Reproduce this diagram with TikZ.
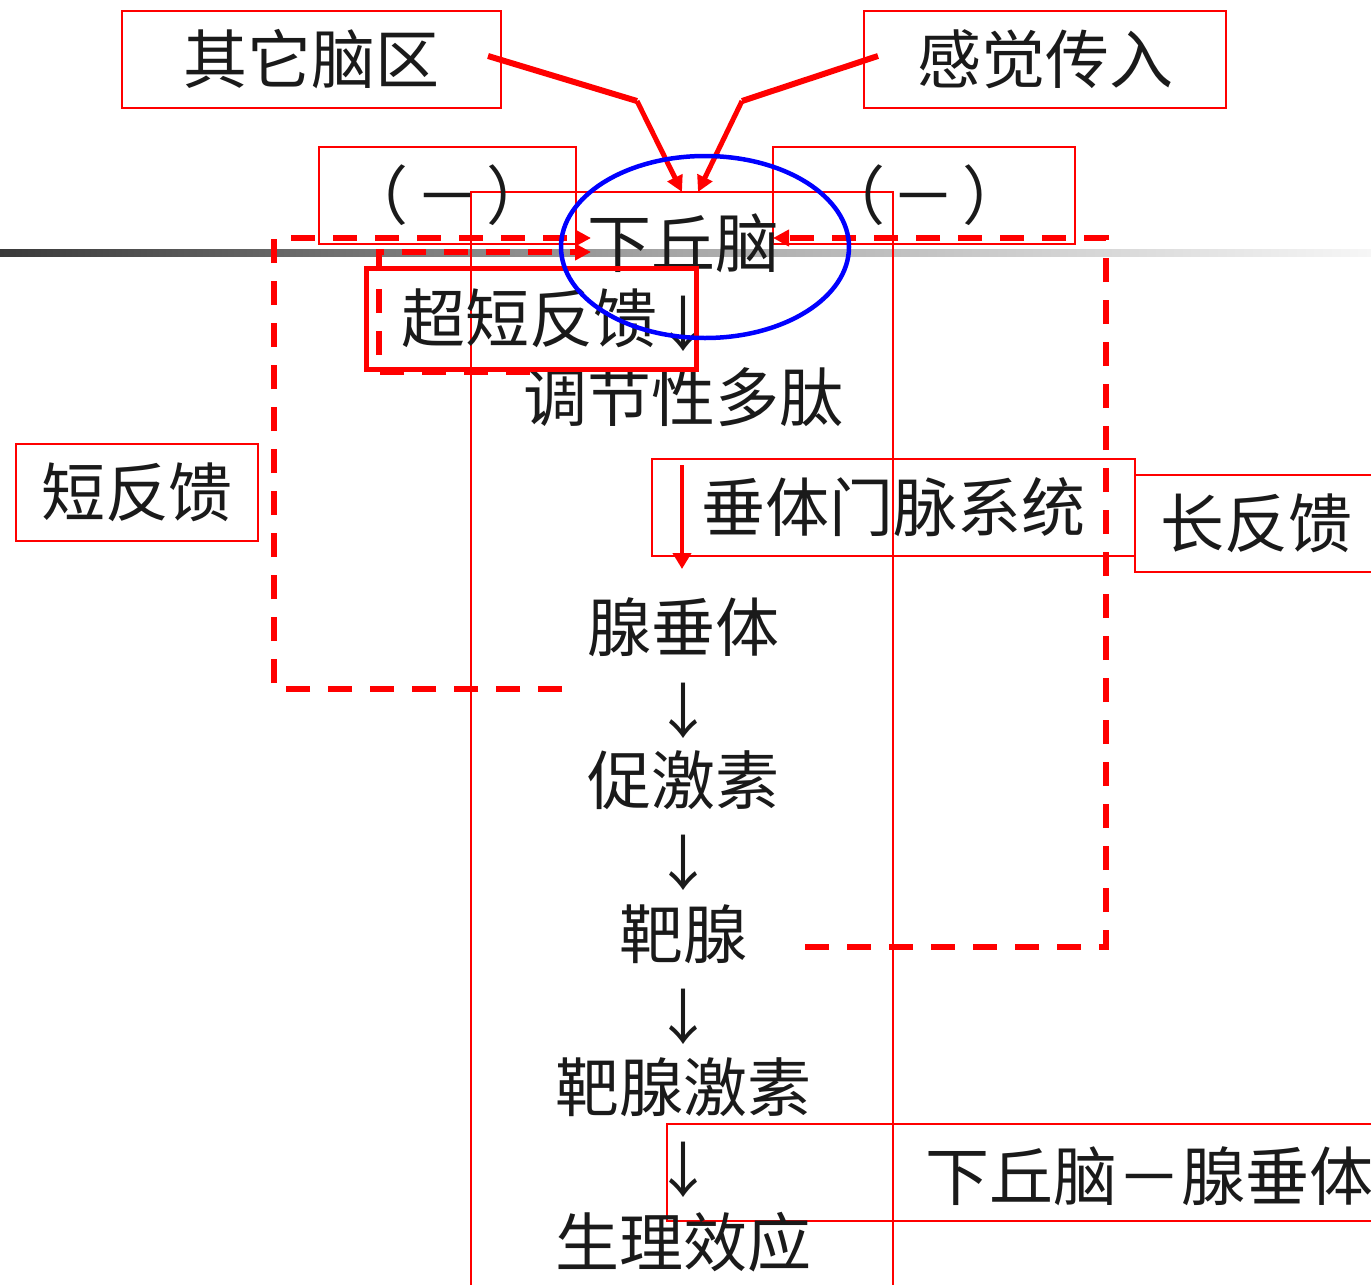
\documentclass[tikz,border=0pt]{standalone}
\usepackage{fontspec}
\setmainfont{Noto Sans CJK SC}
\usetikzlibrary{arrows.meta,calc}
\definecolor{txt}{HTML}{1A1A1A}
\definecolor{gleft}{HTML}{3A3A3A}
\definecolor{gmid}{HTML}{A8A8A8}
\definecolor{gright}{HTML}{F6F6F6}
\begin{document}
\begin{tikzpicture}[x=1pt,y=-1pt,
  lbl/.style={font=\fontsize{64}{70}\selectfont, text=txt, inner sep=0pt},
  rbox/.style={draw=red, line width=2pt, inner sep=0pt, minimum height=97pt},
  thinred/.style={draw=red, line width=2pt},
  fbpath/.style={draw=red, line width=6pt, dash pattern=on 24pt off 18pt},
  fbtip/.style={-{Triangle[length=16pt,width=16pt]}},
  inarrow/.style={draw=red, line width=5pt, -{Triangle[length=16pt,width=16pt]}},
  inthick/.style={draw=red, line width=6pt},
  down/.style={font=\fontsize{60}{66}\selectfont, text=txt, inner sep=0pt}
]
\useasboundingbox (0,0) rectangle (1371,1285);

% gradient rule
\shade[left color=gleft, right color=gright, middle color=gmid] (0,249) rectangle (1371,256);

% thin red frames
\draw[thinred] (471,1285) -- (471,192) -- (893,192) -- (893,1285);
\draw[thinred] (1371,475) -- (1135,475) -- (1135,572) -- (1371,572);
\draw[thinred] (1371,1124) -- (667,1124) -- (667,1221) -- (1371,1221);

% boxed labels
\node[rbox, lbl, minimum width=379pt] (b1) at (311.5,59.5) {其它脑区};
\node[rbox, lbl, minimum width=362pt] (b2) at (1045,59.5) {感觉传入};
\node[rbox, lbl, minimum width=257pt] (m1) at (447.5,195.5) {（\kern7pt－\kern7pt）};
\node[rbox, lbl, minimum width=302pt] (m2) at (924,195.5) {（\kern7pt－\kern7pt）};
\node[rbox, lbl, minimum width=242pt] (sf) at (137,492.5) {短反馈};
\node[rbox, lbl, minimum width=483pt] (portal) at (893.5,507.5) {垂体门脉系统};
\node[lbl] (lf) at (1256,523) {长反馈};
\node[lbl, anchor=west] (hp) at (925,1176) {下丘脑－腺垂体};

% main chain
\node[lbl] (hyp) at (683,243) {下丘脑};
\node[lbl] (usf) at (529,318) {超短反馈};
\node[down] (a0) at (683,324) {↓};
\node[lbl] (rp) at (683,397) {调节性多肽};
\node[lbl] (ap) at (683,627) {腺垂体};
\node[down] (a1) at (683,711) {↓};
\node[lbl] (tr) at (683,780) {促激素};
\node[down] (a2) at (683,863) {↓};
\node[lbl] (tg) at (683,934) {靶腺};
\node[down] (a3) at (683,1017) {↓};
\node[lbl] (th) at (683,1087) {靶腺激素};
\node[down] (a4) at (683,1170) {↓};
\node[lbl] (pe) at (683,1242) {生理效应};

% inputs to hypothalamus
\coordinate (p1s) at (488,56);
\coordinate (p1b) at (637,101);
\coordinate (p1e) at (682,192);
\coordinate (p2s) at (878,56);
\coordinate (p2b) at (742,101);
\coordinate (p2e) at (698,192);
\draw[inthick] (p1s) -- (p1b);
\draw[inarrow] (p1b) -- (p1e);
\draw[inthick] (p2s) -- (p2b);
\draw[inarrow] (p2b) -- (p2e);

% short feedback
\coordinate (s1) at (562,689);
\coordinate (s2) at (274,689);
\coordinate (s3) at (274,238);
\coordinate (s4) at (591,238);
\draw[fbpath, fbtip] (s1) -- (s2) -- (s3) -- (s4);

% ultra-short feedback
\coordinate (u1) at (530,372);
\coordinate (u2) at (379,372);
\coordinate (u3) at (379,252);
\coordinate (u4) at (591,252);
\draw[fbpath, fbtip] (u1) -- (u2) -- (u3) -- (u4);

% long feedback
\coordinate (l1) at (805,947);
\coordinate (l2) at (1106,947);
\coordinate (l3) at (1106,238);
\coordinate (l4) at (773,238);
\draw[fbpath, fbtip] (l1) -- (l2) -- (l3) -- (l4);

% portal arrow
\coordinate (pa1) at (682,465);
\coordinate (pa2) at (682,569);
\draw[red, line width=4pt, -{Triangle[length=16pt,width=18pt]}] (pa1) -- (pa2);

% ultra-short feedback thick box
\draw[red, line width=5pt] (366,268) rectangle (696,369);

% hypothalamus ellipse
\draw[blue, line width=4.5pt] (705,247) ellipse [x radius=144, y radius=91];
\end{tikzpicture}
\end{document}
